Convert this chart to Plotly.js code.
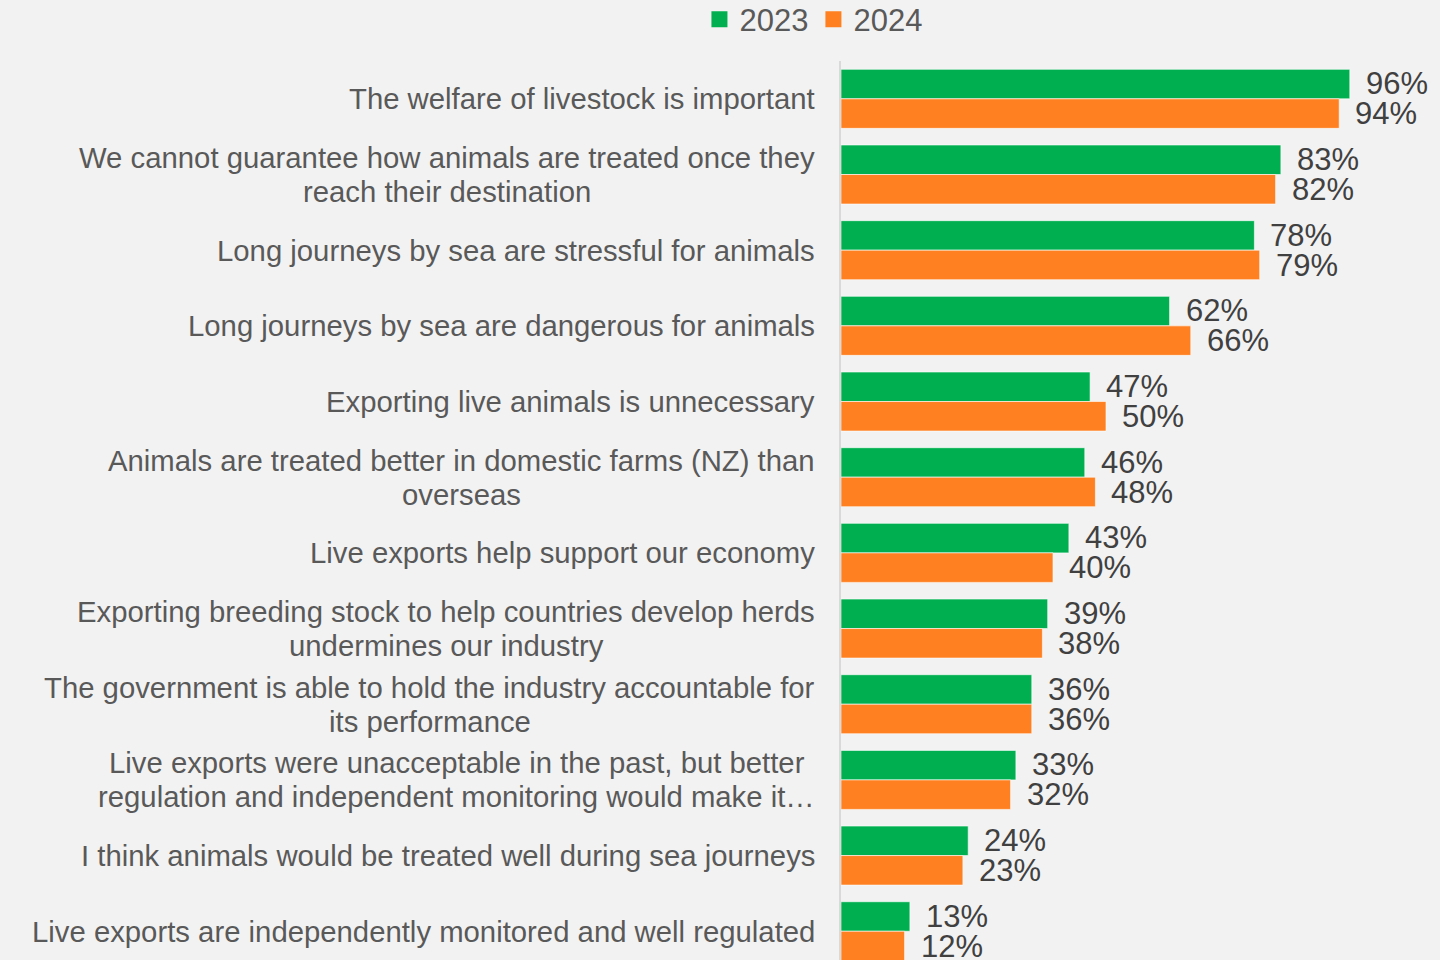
<!DOCTYPE html>
<html>
<head>
<meta charset="utf-8">
<script src="https://cdn.plot.ly/plotly-3.0.1.min.js"></script>
<style>
  html, body { margin: 0; padding: 0; background: #f2f2f2; }
  #chart { width: 1440px; height: 960px; }
</style>
</head>
<body>
<div id="chart"></div>
<script>
const categories = [
  "The welfare of livestock is important",
  "We cannot guarantee how animals are treated once they<br>reach their destination",
  "Long journeys by sea are stressful for animals",
  "Long journeys by sea are dangerous for animals",
  "Exporting live animals is unnecessary",
  "Animals are treated better in domestic farms (NZ) than<br>overseas",
  "Live exports help support our economy",
  "Exporting breeding stock to help countries develop herds<br>undermines our industry",
  "The government is able to hold the industry accountable for<br>its performance",
  "Live exports were unacceptable in the past, but better<br>regulation and independent monitoring would make it…",
  "I think animals would be treated well during sea journeys",
  "Live exports are independently monitored and well regulated"
];
const values2023 = [96, 83, 78, 62, 47, 46, 43, 39, 36, 33, 24, 13];
const values2024 = [94, 82, 79, 66, 50, 48, 40, 38, 36, 32, 23, 12];
const seriesNames = ["2023", "2024"];

const GREEN = "#00b050";
const ORANGE = "#ff8021";
const FONT = "Liberation Sans, Arial, sans-serif";
const LABEL_SIZE = 29.3;
const VALUE_SIZE = 31;
const LINE_GAP = 34;
const LABEL_RIGHT_GAP = 26;

const idx = categories.map((_, i) => i);

const traces = [
  {
    type: "bar", orientation: "h", name: seriesNames[0],
    x: values2023, y: idx, showlegend: false,
    marker: { color: GREEN, line: { color: "rgba(255,255,255,0.6)", width: 1 } },
    hoverinfo: "skip"
  },
  {
    type: "bar", orientation: "h", name: seriesNames[1],
    x: values2024, y: idx, showlegend: false,
    marker: { color: ORANGE, line: { color: "rgba(255,255,255,0.6)", width: 1 } },
    hoverinfo: "skip"
  },
  {
    type: "scatter", mode: "markers", name: seriesNames[0],
    x: [null], y: [null],
    marker: { symbol: "square", size: 17, color: GREEN }
  },
  {
    type: "scatter", mode: "markers", name: seriesNames[1],
    x: [null], y: [null],
    marker: { symbol: "square", size: 17, color: ORANGE }
  }
];

// measure text to center wrapped lines within their block, right-aligned to the axis
const ctx = document.createElement("canvas").getContext("2d");
ctx.font = LABEL_SIZE + "px 'Liberation Sans', Arial, sans-serif";

const annotations = [];
categories.forEach((c, i) => {
  const lines = c.split("<br>");
  const widths = lines.map(l => ctx.measureText(l).width);
  const maxW = Math.max(...widths);
  lines.forEach((line, k) => {
    annotations.push({
      text: line, xref: "paper", yref: "y", x: 0, y: i,
      xanchor: "center", yanchor: "middle",
      xshift: -(LABEL_RIGHT_GAP + maxW / 2),
      yshift: ((lines.length - 1) / 2 - k) * LINE_GAP,
      showarrow: false, borderpad: 0,
      font: { family: FONT, size: LABEL_SIZE, color: "#595959" }
    });
  });
});
[values2023, values2024].forEach((vals, s) => {
  vals.forEach((v, i) => {
    annotations.push({
      text: v + "%", xref: "x", yref: "y", x: v, y: i,
      xanchor: "left", yanchor: "middle", xshift: 15, yshift: s === 0 ? 15 : -15,
      showarrow: false, borderpad: 0,
      font: { family: FONT, size: VALUE_SIZE, color: "#404040" }
    });
  });
});

const layout = {
  width: 1440, height: 960,
  paper_bgcolor: "#f2f2f2", plot_bgcolor: "#f2f2f2",
  margin: { l: 841, r: 69, t: 61, b: 0, pad: 0, autoexpand: false },
  barmode: "group", bargap: 0.22, bargroupgap: 0,
  font: { family: FONT, color: "#595959" },
  xaxis: {
    range: [0, 100], showgrid: false, zeroline: false, showline: false,
    showticklabels: false, ticks: "", fixedrange: true
  },
  yaxis: {
    range: [11.38, -0.5], showgrid: false, zeroline: false,
    showline: true, linecolor: "#d9d9d9", linewidth: 2,
    showticklabels: false, ticks: "", fixedrange: true
  },
  legend: {
    orientation: "h", x: -0.052, xanchor: "center", y: 1.046, yanchor: "middle",
    font: { family: FONT, size: 31, color: "#595959" },
    bgcolor: "rgba(0,0,0,0)", itemclick: false, itemdoubleclick: false,
    tracegroupgap: 0, itemwidth: 30
  },
  annotations: annotations,
  showlegend: true
};

Plotly.newPlot("chart", traces, layout, { displayModeBar: false, staticPlot: true });
</script>
</body>
</html>
